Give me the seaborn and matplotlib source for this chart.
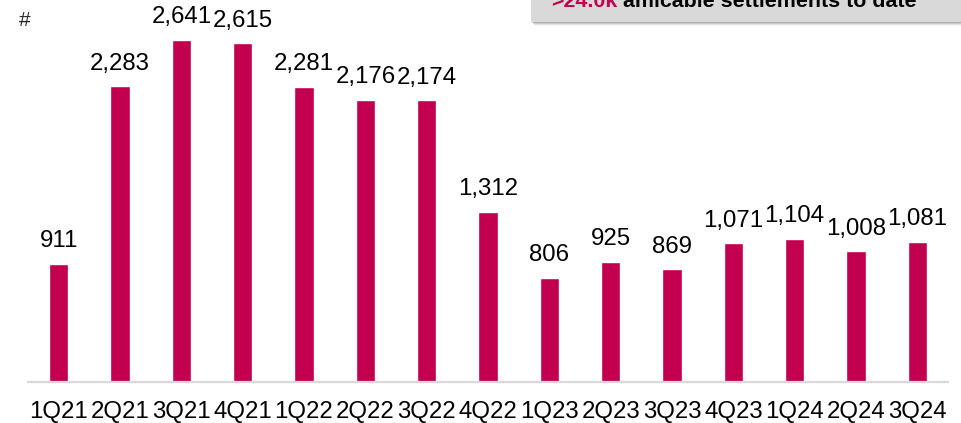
import matplotlib
matplotlib.use("Agg")
import matplotlib.pyplot as plt
from matplotlib.patches import Rectangle
import seaborn as sns
import pandas as pd

quarters = ["1Q21", "2Q21", "3Q21", "4Q21", "1Q22", "2Q22", "3Q22", "4Q22",
            "1Q23", "2Q23", "3Q23", "4Q23", "1Q24", "2Q24", "3Q24"]
settlements = [911, 2283, 2641, 2615, 2281, 2176, 2174, 1312,
               806, 925, 869, 1071, 1104, 1008, 1081]
callout_value = ">24.0k"
callout_text = " amicable settlements to date"

BAR = "#c2004f"
W, H = 961, 423

sns.set_theme(style="white")
plt.rcParams["font.family"] = ["Liberation Sans", "DejaVu Sans"]

df = pd.DataFrame({"quarter": quarters, "settlements": settlements})

fig = plt.figure(figsize=(W / 100, H / 100), dpi=100)
ax = fig.add_axes([28 / W, (H - 382) / H, (948 - 28) / W, 382 / H])

sns.barplot(data=df, x="quarter", y="settlements", color=BAR, width=0.31,
            saturation=1, ax=ax)
ax.set_xlim(-0.5, len(quarters) - 0.5)
ax.set_ylim(0, 2950)

for cont in ax.containers:
    ax.bar_label(cont, labels=[f"{v:,}" for v in settlements], padding=8.5,
                 fontsize=17.3, color="black")

ax.set_xlabel("")
ax.set_ylabel("")
ax.set_yticks([])
ax.tick_params(axis="x", length=0, pad=14, labelsize=17.3, colors="black")
for s in ["top", "right", "left"]:
    ax.spines[s].set_visible(False)
ax.spines["bottom"].set_color("#d9d9d9")
ax.spines["bottom"].set_linewidth(1.6)

fig.text(25 / W, 1 - 20 / H, "#", fontsize=15, ha="center", va="center")

# callout box with soft drop shadow
bx0, bw, by0, bh = 531 / W, 440 / W, 1 - 22 / H, 40 / H
for i, a in enumerate([0.35, 0.25, 0.15, 0.08]):
    fig.patches.append(Rectangle((bx0 + (1 + i) / W, by0 - (1 + i) / H), bw, bh,
                                 transform=fig.transFigure, color="#808080",
                                 alpha=a, lw=0, zorder=1))
fig.patches.append(Rectangle((bx0, by0), bw, bh, transform=fig.transFigure,
                             color="#d9d9d9", lw=0, zorder=2))
t1 = fig.text(551 / W, 1 - 7 / H, callout_value, fontsize=15.4, weight="bold",
              color=BAR, va="baseline", zorder=3)
fig.canvas.draw()
bb = t1.get_window_extent()
fig.text(bb.x1 / W, 1 - 7 / H, callout_text, fontsize=15.4, weight="bold",
         color="black", va="baseline", zorder=3)

fig.savefig("out.png", dpi=100)
